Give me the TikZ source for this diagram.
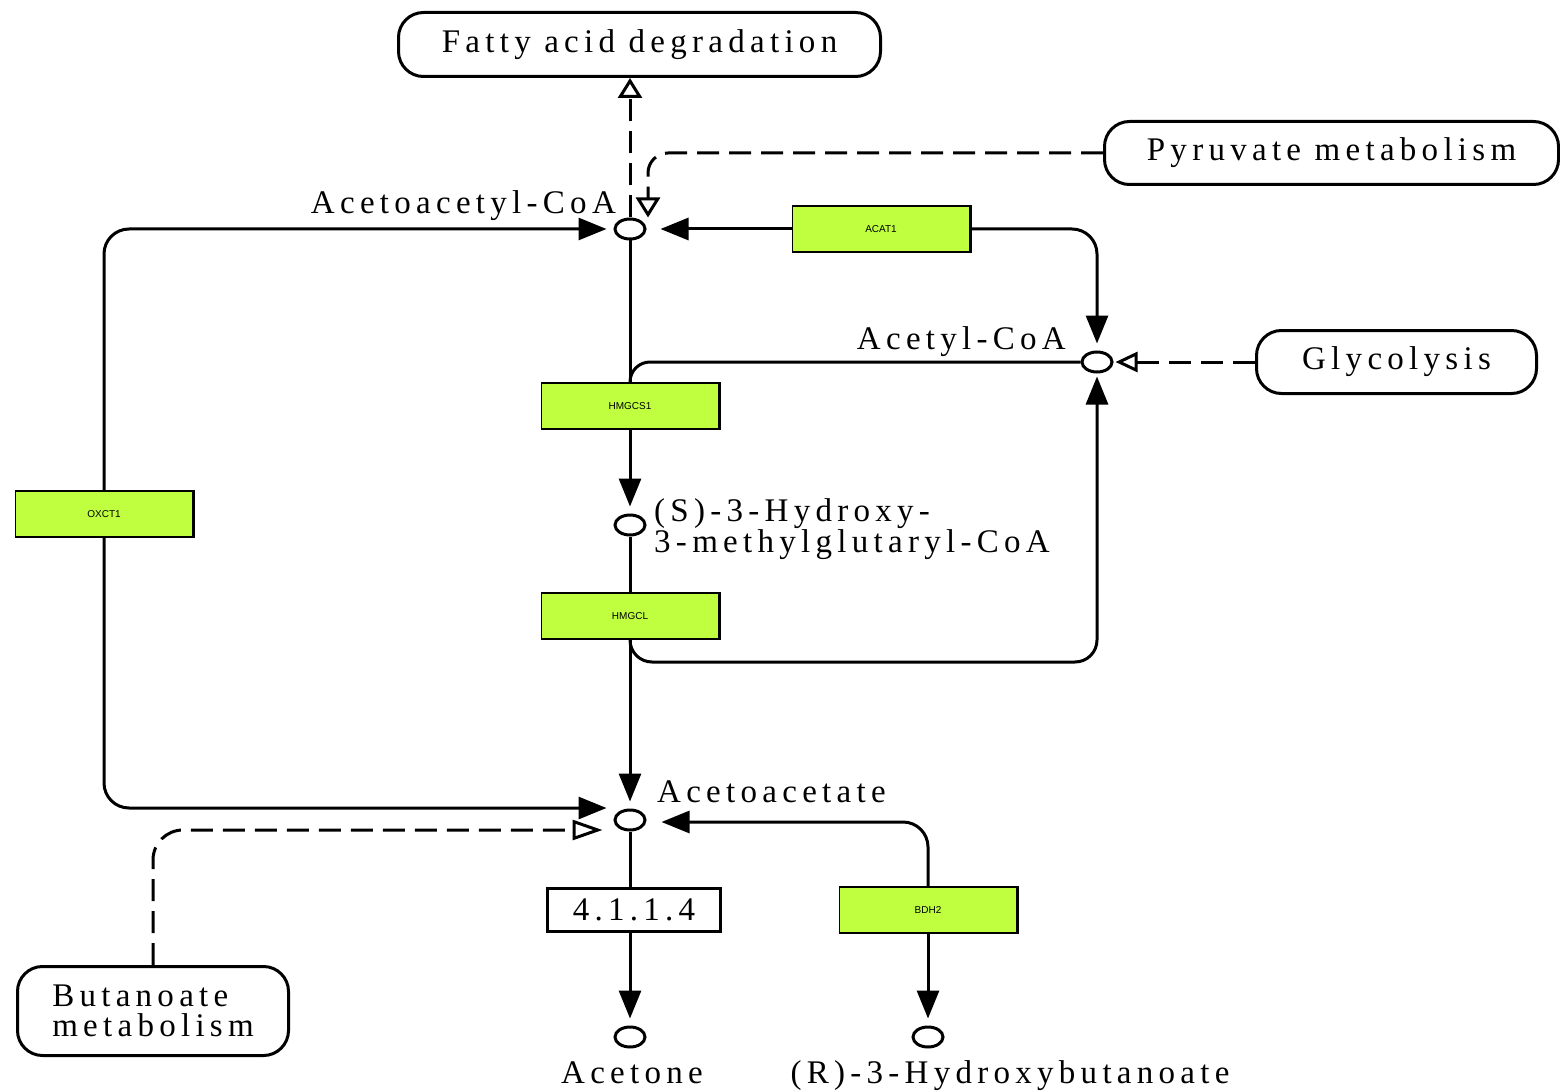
\documentclass[tikz,border=0pt]{standalone}
\usepackage{fontspec}
\setmainfont{Liberation Serif}
\newfontfamily\keggfont[LetterSpace=16]{Liberation Serif}
\newfontfamily\genefont{Liberation Sans}
\usepackage{tikz}
\usetikzlibrary{arrows.meta}
\usetikzlibrary{shapes.geometric}
\definecolor{keggreen}{RGB}{191,255,63}

\begin{document}
\begin{tikzpicture}[line cap=butt,line join=miter,>={Triangle[length=28pt,width=22pt]},x=1pt,y=-1pt]
\useasboundingbox (0,0) rectangle (1560,1091);
\tikzstyle{mydashed}=[dash pattern=on 22pt off 10pt]
\tikzstyle{myrxn}=[line width=3pt]
\tikzstyle{mymap}=[draw, line width=3pt, rounded corners=25pt, inner sep=0pt, align=left, font=\keggfont\fontsize{33}{30}\selectfont]
\tikzstyle{mygene}=[draw, fill=keggreen, line width=1.5pt, minimum width=177pt, minimum height=46pt, inner sep=0pt, font=\genefont\fontsize{10}{12}\selectfont]
\tikzstyle{mycpd}=[draw, ellipse, line width=3pt, minimum width=30pt, minimum height=20pt, inner sep=0pt]
\tikzstyle{mylabel}=[inner sep=0pt, align=left, font=\keggfont\fontsize{33}{29}\selectfont]
\tikzstyle{myopen}=[-{Triangle[open,length=20pt,width=24pt]}]

%maps
\node[mymap, minimum width=482pt, minimum height=64pt] (fad) at (639.5,44.5) {Fatty acid degradation};
\node[mymap, minimum width=454pt, minimum height=63pt] (pyr) at (1331.5,153) {Pyruvate metabolism};
\node[mymap, minimum width=280pt, minimum height=63pt] (gly) at (1396.5,362) {Glycolysis};
\node[mymap, minimum width=271pt, minimum height=89pt] (but) at (153,1011) {Butanoate\\metabolism};

%compounds
\node[mycpd] (aacoa) at (630,229) {};
\node[mycpd] (accoa) at (1097,362) {};
\node[mycpd] (hmgcoa) at (630,525) {};
\node[mycpd] (aceto) at (630,820) {};
\node[mycpd] (acetone) at (630,1037) {};
\node[mycpd] (rhb) at (928,1037) {};
\node[mylabel, anchor=base east] (aacoalab) at (616,214) {Acetoacetyl-CoA};
\node[mylabel, anchor=base east] (accoalab) at (1066,349) {Acetyl-CoA};
\node[mylabel, anchor=north west] (hmgcoalab) at (654,498) {(S)-3-Hydroxy-\\3-methylglutaryl-CoA};
\node[mylabel, anchor=base west] (acetolab) at (657,802) {Acetoacetate};
\node[mylabel, anchor=base] (acetonelab) at (632,1083) {Acetone};
\node[mylabel, anchor=base] (rhblab) at (1010,1083) {(R)-3-Hydroxybutanoate};

%genes
\node[mygene] (acat1) at (881,229) {ACAT1};
\node[mygene] (hmgcs1) at (630,406) {HMGCS1};
\node[mygene] (hmgcl) at (630,616) {HMGCL};
\node[mygene] (oxct1) at (104,514) {OXCT1};
\node[mygene] (bdh2) at (928,910) {BDH2};
\node[mylabel, draw, line width=3pt, minimum width=173pt, minimum height=43pt] (ec) at (634,910) {4.1.1.4};
\foreach \g in {acat1,hmgcs1,hmgcl,oxct1,bdh2}
  \draw[line width=3pt] (\g.north east) -- (\g.south east);

%links to maps
\draw[myrxn, mydashed, myopen] (aacoa.north) -- (aacoa.north |- fad.south);
\draw[myrxn, mydashed, myopen, rounded corners=20pt] (pyr.west) -| ([xshift=18pt]aacoa.north);
\draw[myrxn, mydashed, -{Triangle[open,length=22pt,width=20pt]}, shorten >=2pt] (gly) -- (accoa);
\draw[myrxn, mydashed, -{Triangle[open,length=30pt,width=20pt]}, rounded corners=30pt, shorten >=11pt] (but.north) |- ([yshift=-10pt]aceto.west);

%OXCT1
\draw[myrxn, <-, rounded corners=25pt, shorten <=7pt] (aacoa.west) -| (oxct1.north);
\draw[myrxn, ->, rounded corners=25pt, shorten >=7pt] (oxct1.south) |- ([yshift=12pt]aceto.west);
%ACAT1
\draw[myrxn, ->, shorten >=14pt] (acat1.west) -- (aacoa.east);
\draw[myrxn, ->, rounded corners=25pt, shorten >=7pt] (acat1.east) -| (accoa.north);
%HMGCS1
\draw[myrxn] (aacoa) -- (hmgcs1);
\draw[myrxn, rounded corners=20pt] (accoa.west) -| (hmgcs1.north);
\draw[myrxn, ->, shorten >=7pt] (hmgcs1) -- (hmgcoa);
%HMGCL
\coordinate (hmgturn) at (1097,662);
\draw[myrxn] (hmgcoa) -- (hmgcl);
\draw[myrxn, ->, shorten >=7pt] (hmgcl) -- (aceto);
\draw[myrxn, ->, rounded corners=22pt, shorten >=3pt] (hmgcl.south) |- (hmgturn) -- (accoa.south);
%4.1.1.4
\draw[myrxn] (aceto) -- (aceto |- ec.north);
\draw[myrxn, ->, shorten >=7pt] (aceto |- ec.south) -- (acetone);
%BDH2
\draw[myrxn, ->, rounded corners=25pt, shorten >=15pt] (bdh2.north) |- ([yshift=-2pt]aceto.east);
\draw[myrxn, ->, shorten >=7pt] (bdh2) -- (rhb);
\end{tikzpicture}
\end{document}
